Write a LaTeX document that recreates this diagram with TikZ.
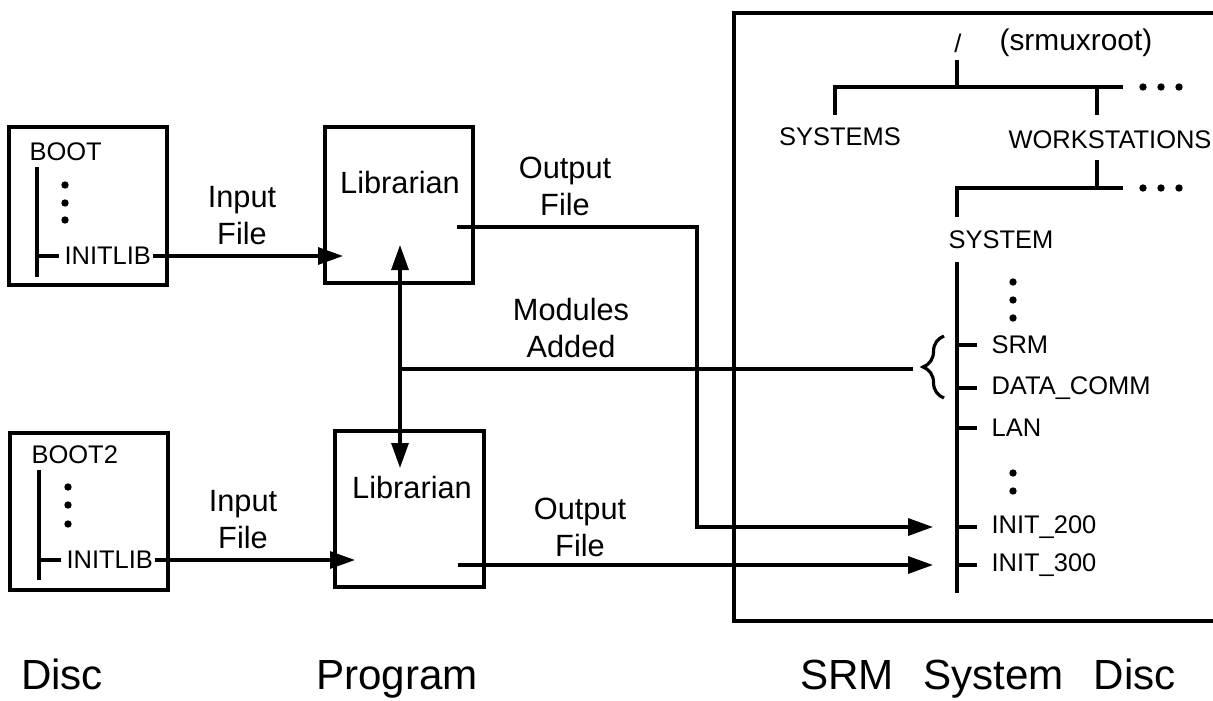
\documentclass[tikz,border=0pt]{standalone}
\usepackage{fontspec}
\setmainfont{Liberation Sans}
\usetikzlibrary{arrows.meta, positioning, decorations.pathreplacing}

\begin{document}
\begin{tikzpicture}[
  x=0.02cm, y=-0.02cm, line width=1.8pt,
  box/.style={draw, line width=2pt, minimum width=2.96cm, minimum height=3.12cm, inner sep=0pt},
  lbl/.style={font=\fontsize{17.5}{21}\selectfont, inner sep=0pt, align=center},
  tree/.style={font=\fontsize{14.5}{16}\selectfont, inner sep=0pt},
  title/.style={font=\fontsize{24}{28}\selectfont, inner sep=0pt, anchor=base},
  dot/.style={circle, fill, inner sep=0pt, minimum size=4.2pt},
  >={Triangle[length=0.5cm, width=0.34cm]}
]
\useasboundingbox (0,0) rectangle (1213,700);

% disc
\node[box, minimum width=3.16cm, minimum height=3.16cm] (boot)  at (88,206)   {};
\node[box, minimum width=3.16cm, minimum height=3.14cm] (boot2) at (89,511.5) {};
\node[tree, anchor=west] (bootname)  at (28,152) {BOOT};
\node[tree, anchor=west] (boot2name) at (30,455) {BOOT2};
\node[tree, anchor=west] (initlib)   at (63,256) {INITLIB};
\node[tree, anchor=west] (initlib2)  at (65,560) {INITLIB};
\foreach \y in {185,203,220} \node[dot] (bd\y) at (65,\y) {};
\foreach \y in {487,505,524} \node[dot] (bdd\y) at (68,\y) {};
\draw (37,167) -- (37,277);
\draw (initlib.west -| 37,0) -- ([xshift=-2pt]initlib.west);
\draw (39,470) -- (39,580);
\draw (initlib2.west -| 39,0) -- ([xshift=-2pt]initlib2.west);

% program
\node[box] (lib1) at (399,205)   {};
\node[box, minimum width=2.98cm] (lib2) at (409.5,509) {};
\node[lbl] (lib1name) at (400,183) {Librarian};
\node[lbl] (lib2name) at (412,488) {Librarian};
\node[lbl] (in1lbl)  at (242,216) {Input\\File};
\node[lbl] (in2lbl)  at (243,520) {Input\\File};
\node[lbl] (out1lbl) at (565,186) {Output\\File};
\node[lbl] (modlbl)  at (571,328) {Modules\\Added};
\node[lbl] (out2lbl) at (580,527) {Output\\File};

\coordinate (in1)  at (343,255);
\coordinate (in2)  at (355,559);
\coordinate (o1)   at (457,227);
\coordinate (o2)   at (458,565);
\coordinate (bend) at (697,400);
\coordinate (tipx) at (933,0);
\coordinate (mtop) at (400,245);
\coordinate (mbot) at (400,468);
\coordinate (mj)   at (400,369);
\coordinate (btip) at (913,369);

\draw[->] (initlib.east)  -- (initlib -| in1);
\draw[->] (initlib2.east) -- (initlib2 -| in2);
\draw[<->] (mtop) -- (mbot);
\draw (mj) -- (btip);

% srm system disc
\draw[line width=2pt] (1213,13) -- (734,13) -- (734,621) -- (1213,621);
\node[tree] (root) at (958,43) {/};
\node[tree, font=\fontsize{17}{19}\selectfont, anchor=west] (rootname) at (998,43) {(srmuxroot)};
\node[tree] (systems) at (840,137) {SYSTEMS};
\node[tree, anchor=west] (wkst) at (1007,140) {WORKSTATIONS};
\node[tree] (system) at (1001,240) {SYSTEM};
\node[tree, anchor=west] (srm)   at (990,345) {SRM};
\node[tree, anchor=west] (dcomm) at (990,388) {DATA\_COMM};
\node[tree, anchor=west] (lan)   at (990,428) {LAN};
\node[tree, anchor=west] (i200)  at (990,527) {INIT\_200};
\node[tree, anchor=west] (i300)  at (990,565) {INIT\_300};

\coordinate (r1l) at (835,87);
\coordinate (r1m) at (957,87);
\coordinate (r1w) at (1097,87);
\coordinate (r1r) at (1123,87);
\coordinate (r2l) at (957,188);
\coordinate (r2w) at (1097,188);
\coordinate (r2r) at (1123,188);
\coordinate (spine) at (957,262);
\coordinate (spend) at (957,593);

\draw (957,60) -- (r1m);
\draw (835,115) -- (r1l) -- (r1r);
\draw (r1w) -- (1097,115);
\draw (1097,160) -- (r2w);
\draw (957,217) -- (r2l) -- (r2r);
\draw (spine) -- (spend);
\foreach \x in {1143,1161,1179} {
  \node[dot] (da\x) at (\x,87) {};
  \node[dot] (db\x) at (\x,188) {};
}
\foreach \y in {282,300,318,473,491} \node[dot] (sd\y) at (1013,\y) {};
\foreach \n in {srm,dcomm,lan,i200,i300} \draw (\n.west -| spine) -- ++(20,0);

\draw[decorate, decoration={brace, amplitude=0.42cm}] (944,398) -- (944,336);

\draw[->] (o1) -- (o1 -| bend) |- (i200 -| tipx);
\draw[->] (o2) -- (i300 -| tipx);

% titles
\node[title] (t1) at (62,689)  {Disc};
\node[title] (t2) at (397,689) {Program};
\node[title] (t3) at (988,689) {SRM\hspace{0.7em}System\hspace{0.7em}Disc};
\end{tikzpicture}
\end{document}
